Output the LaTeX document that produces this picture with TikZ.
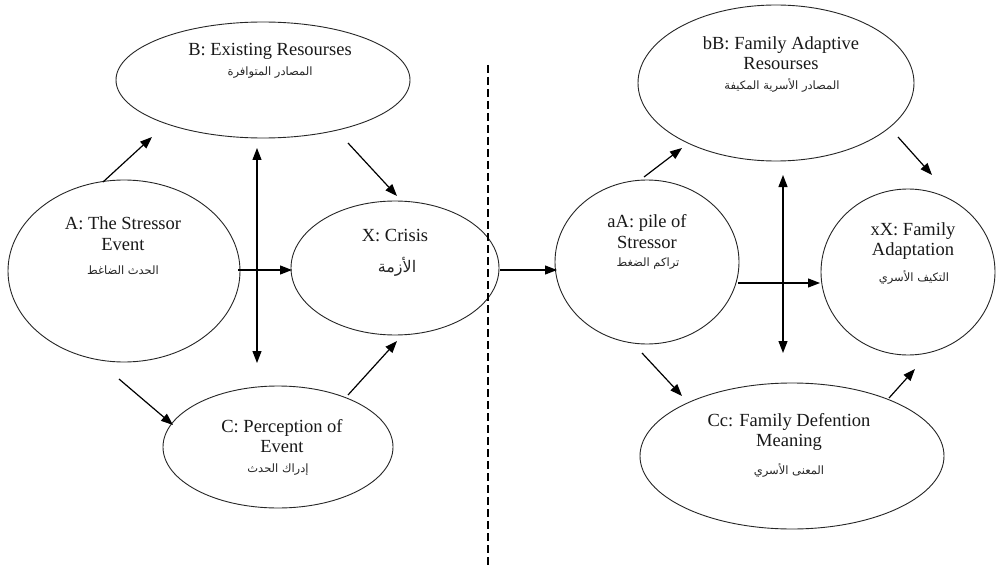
\documentclass[tikz,border=0pt]{standalone}
\usepackage{fontspec}
\setmainfont{Liberation Serif}
\newfontfamily\arabicfont[Script=Arabic]{DejaVu Sans}
\TeXXeTstate=1
\usetikzlibrary{shapes.geometric,arrows.meta}
\tikzset{
  ell/.style={draw=black!85, line width=0.9pt, ellipse, inner sep=0pt},
  eng/.style={font=\fontsize{18.5}{20.5}\selectfont, align=center, inner sep=0pt, text=black!90},
  arab/.style={font=\arabicfont\fontsize{11.5}{13}\selectfont, inner sep=0pt, text=black!85},
  arr/.style={line width=1.2pt, -{Triangle[length=12pt,width=9pt]}},
  darr/.style={line width=1.2pt, {Triangle[length=12pt,width=9pt]}-{Triangle[length=12pt,width=9pt]}}
}
\newcommand{\ar}[1]{{\beginR #1\endR}}
\begin{document}
\begin{tikzpicture}[x=1pt,y=-1pt]
\useasboundingbox[fill=white] (0,0) rectangle (996,567);
% ellipses
\node[ell, minimum width=294pt, minimum height=116pt] (B)  at (263,80)  {};
\node[ell, minimum width=232pt, minimum height=182pt] (A)  at (124,271) {};
\node[ell, minimum width=208pt, minimum height=134pt] (X)  at (395,268) {};
\node[ell, minimum width=230pt, minimum height=122pt] (C)  at (278,447) {};
\node[ell, minimum width=276pt, minimum height=156pt] (bB) at (776,83)  {};
\node[ell, minimum width=184pt, minimum height=164pt] (aA) at (647,262) {};
\node[ell, minimum width=174pt, minimum height=166pt] (xX) at (908,272) {};
\node[ell, minimum width=304pt, minimum height=146pt] (Cc) at (792,456) {};
% texts
\node[eng] (tB) at (270,51) {B: Existing Resourses};
\node[arab] (rB) at (270,73) {\ar{المصادر المتوافرة}};
\node[eng] (tA) at (123,233.5) {A: The Stressor\\Event};
\node[arab] (rA) at (123,270) {\ar{الحدث الضاغط}};
\node[eng] (tX) at (395,236) {X: Crisis};
\node[arab, font=\arabicfont\fontsize{16}{18}\selectfont] (rX) at (397,267) {\ar{الأزمة}};
\node[eng] (tC) at (282,436) {C: Perception of\\Event};
\node[arab] (rC) at (278,470) {\ar{إدراك الحدث}};
\node[eng] (tbB) at (781,53) {bB: Family Adaptive\\Resourses};
\node[arab] (rbB) at (782,85) {\ar{المصادر الأسرية المكيفة}};
\node[eng] (taA) at (647,231.5) {aA: pile of\\Stressor};
\node[arab] (raA) at (648,264) {\ar{تراكم الضغط}};
\node[eng] (txX) at (913,241) {xX: Family\\Adaptation};
\node[arab] (rxX) at (914,277) {\ar{التكيف الأسري}};
\node[eng] (tCc) at (789,432) {Cc: Family Defention\\Meaning};
\node[arab] (rCc) at (789,470) {\ar{المعنى الأسري}};
% arrow end points
\coordinate (ab1) at (103,182);  \coordinate (ab2) at (152,137);
\coordinate (v1a) at (257,363);  \coordinate (v1b) at (257,148);
\coordinate (bx1) at (348,143);  \coordinate (bx2) at (397,196);
\coordinate (ax1) at (238,270);  \coordinate (ax2) at (292,270);
\coordinate (ac1) at (119,379);  \coordinate (ac2) at (173,425);
\coordinate (cx1) at (348,395);  \coordinate (cx2) at (397,341);
\coordinate (xa1) at (500,270);  \coordinate (xa2) at (557,270);
\coordinate (ab3) at (644,177);  \coordinate (ab4) at (682,148);
\coordinate (bx3) at (898,137);  \coordinate (bx4) at (932,175);
\coordinate (v2a) at (783,353);  \coordinate (v2b) at (783,175);
\coordinate (ax3) at (738,283);  \coordinate (ax4) at (820,283);
\coordinate (ac3) at (642,353);  \coordinate (ac4) at (682,396);
\coordinate (cx3) at (889,398);  \coordinate (cx4) at (915,369);
\coordinate (d1) at (488,65);    \coordinate (d2) at (488,567);
% connectors
\draw[arr] (ab1) -- (ab2);
\draw[darr] (v1a) -- (v1b);
\draw[arr] (bx1) -- (bx2);
\draw[arr] (ax1) -- (ax2);
\draw[arr] (ac1) -- (ac2);
\draw[arr] (cx1) -- (cx2);
\draw[arr] (xa1) -- (xa2);
\draw[arr] (ab3) -- (ab4);
\draw[arr] (bx3) -- (bx4);
\draw[darr] (v2a) -- (v2b);
\draw[arr] (ax3) -- (ax4);
\draw[arr] (ac3) -- (ac4);
\draw[arr] (cx3) -- (cx4);
\draw[line width=1.5pt, dash pattern=on 8pt off 4pt] (d1) -- (d2);
\end{tikzpicture}
\end{document}
